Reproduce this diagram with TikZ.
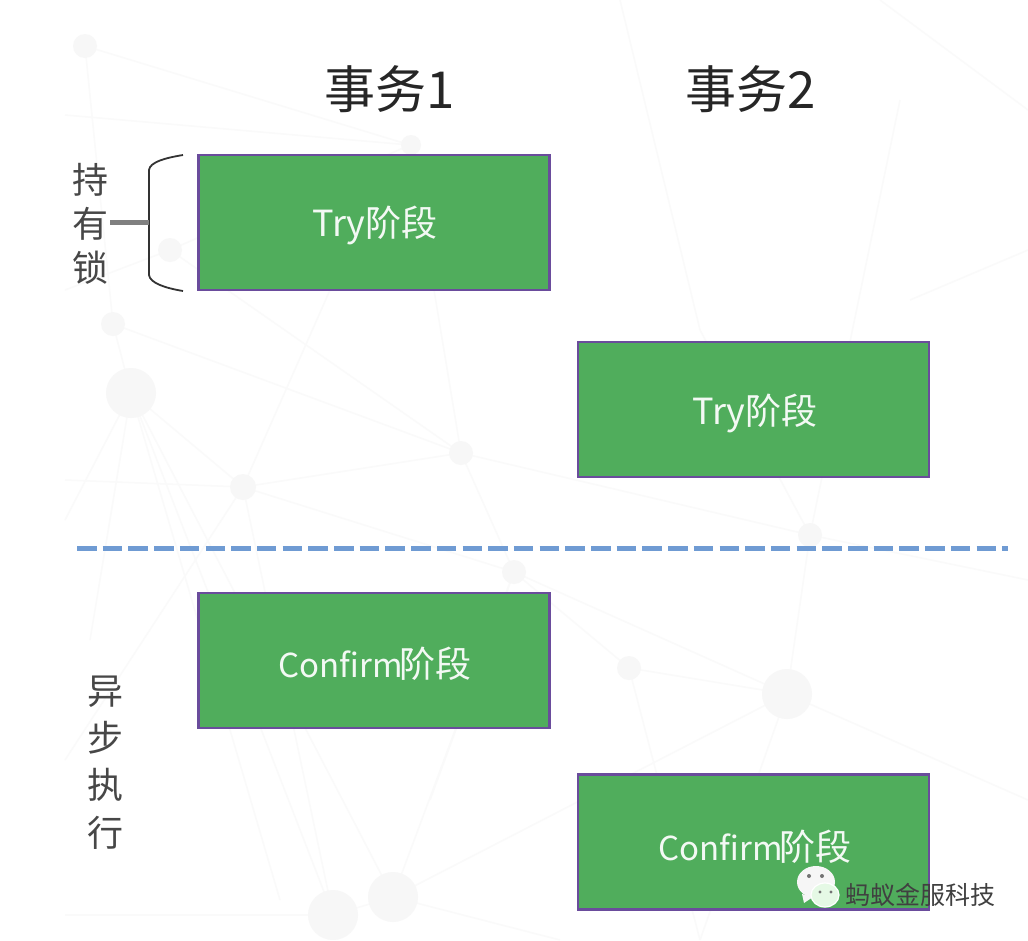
\documentclass[tikz,border=0pt]{standalone}
\usepackage{fontspec}
\setmainfont{Liberation Sans}
\newfontfamily\cjk{Noto Sans CJK SC}
\definecolor{boxgreen}{HTML}{50AD5C}
\definecolor{boxedge}{HTML}{6A4C9C}
\definecolor{dashblue}{HTML}{6F9BD3}
\definecolor{netgray}{HTML}{F7F7F7}
\definecolor{netline}{HTML}{FAFAFA}
\tikzset{
 x=1pt,y=-1pt,
 phase/.style={draw=boxedge,line width=2.4pt,fill=boxgreen,minimum width=351pt,minimum height=135pt,inner sep=0pt},
 phasetext/.style={text=white!93!boxgreen,font=\cjk\fontsize{36}{36}\selectfont,inner sep=0pt},
 headtext/.style={text=black!85,font=\cjk\fontsize{51}{51}\selectfont,inner sep=0pt},
 sidetext/.style={text=black!72,font=\cjk\fontsize{36}{36}\selectfont,inner sep=0pt},
 netstroke/.style={draw=netline,line width=1.5pt},
 netdot/.style={fill=netgray},
}
\newcommand{\cf}{{\fontsize{33}{33}\selectfont Confirm}\hspace{-3pt}}
\begin{document}
\begin{tikzpicture}
\useasboundingbox (0,0) rectangle (1028,940);
\fill[white] (0,0) rectangle (1028,940);
% faint network background
\foreach \a/\b/\c/\d in {85/46/113/324, 85/46/410/145, 65/115/410/145, 113/324/131/393, 131/393/243/487, 131/393/333/915, 131/393/393/897, 131/393/280/900,
 170/250/410/145, 170/250/461/453, 65/290/170/250, 113/324/461/453, 243/487/514/572, 243/487/461/453, 461/453/514/572, 514/572/787/694, 514/572/629/668,
 629/668/787/694, 787/694/810/535, 810/535/461/453, 810/535/1028/580, 787/694/1028/800, 787/694/700/940, 787/694/393/897, 393/897/514/572, 333/915/243/487,
 333/915/393/897, 65/915/333/915, 393/897/560/940, 65/480/243/487, 330/290/243/487, 410/145/461/453, 620/0/700/330, 700/330/810/535, 880/0/1028/110, 910/300/1028/250, 900/100/810/535, 131/393/65/520, 90/640/131/393, 65/760/243/487, 514/572/430/800, 629/668/700/940}{
 \draw[netstroke] (\a,\b) -- (\c,\d);
}
\foreach \a/\b/\r in {85/46/12, 113/324/12, 131/393/25, 170/250/12, 243/487/13, 461/453/12, 514/572/12, 629/668/12, 787/694/25, 333/915/25, 393/897/25, 810/535/12, 411/145/10}{
 \fill[netdot] (\a,\b) circle[radius=\r];
}
% headers
\node[headtext] (h1) at (390,89) {事务1};
\node[headtext] (h2) at (751,89) {事务2};
% phases
\node[phase] (t1) at (374,222.5) {};
\node[phase] (t2) at (753.5,409.5) {};
\node[phase] (c1) at (374,660.5) {};
\node[phase] (c2) at (753.5,842) {};
\node[phasetext] (t1l) at (375,225) {Try阶段};
\node[phasetext] (t2l) at (755,413) {Try阶段};
\node[phasetext] (c1l) at (375,664) {\cf 阶段};
\node[phasetext] (c2l) at (755,847) {\cf 阶段};
% holding-lock brace
\node[sidetext] (s1) at (90,180) {持};
\node[sidetext] (s2) at (90,224) {有};
\node[sidetext] (s3) at (90,268) {锁};
\coordinate (bt) at (183,155);
\coordinate (bb) at (183,291);
\coordinate (bm) at (149,222.5);
\coordinate (bl) at (110,222.5);
\draw[black!80,line width=1.8pt] (bt) .. controls (165,158) and (150,162) .. (149,170) -- (149,275) .. controls (150,283) and (165,288) .. (bb);
\draw[black!50,line width=4.5pt] (bl) -- (bm);
% divider
\coordinate (dl) at (77,548);
\coordinate (dr) at (1008,548);
\draw[dashblue,line width=5pt,dash pattern=on 19.5pt off 6.2pt] (dl) -- (dr);
% async
\node[sidetext] (a1) at (105,692) {异};
\node[sidetext] (a2) at (105,738) {步};
\node[sidetext] (a3) at (105,785) {执};
\node[sidetext] (a4) at (105,833) {行};
% watermark
\fill[white!93!gray] (816,882) ellipse[x radius=19,y radius=16];
\fill[white!93!gray] (802,894) -- (804,903) -- (813,897) -- cycle;
\draw[white,line width=1.2pt,fill=white!92!green!95!gray] (825,895) ellipse[x radius=14,y radius=12];
\fill[black!55] (809,876) circle[radius=2]; \fill[black!55] (822,876) circle[radius=2];
\fill[black!55] (820,892) circle[radius=1.6]; \fill[black!55] (831,892) circle[radius=1.6];
\node[font=\cjk\fontsize{25}{25}\selectfont,text=black!75,inner sep=0pt] (wm) at (920,895) {蚂蚁金服科技};
\end{tikzpicture}
\end{document}
